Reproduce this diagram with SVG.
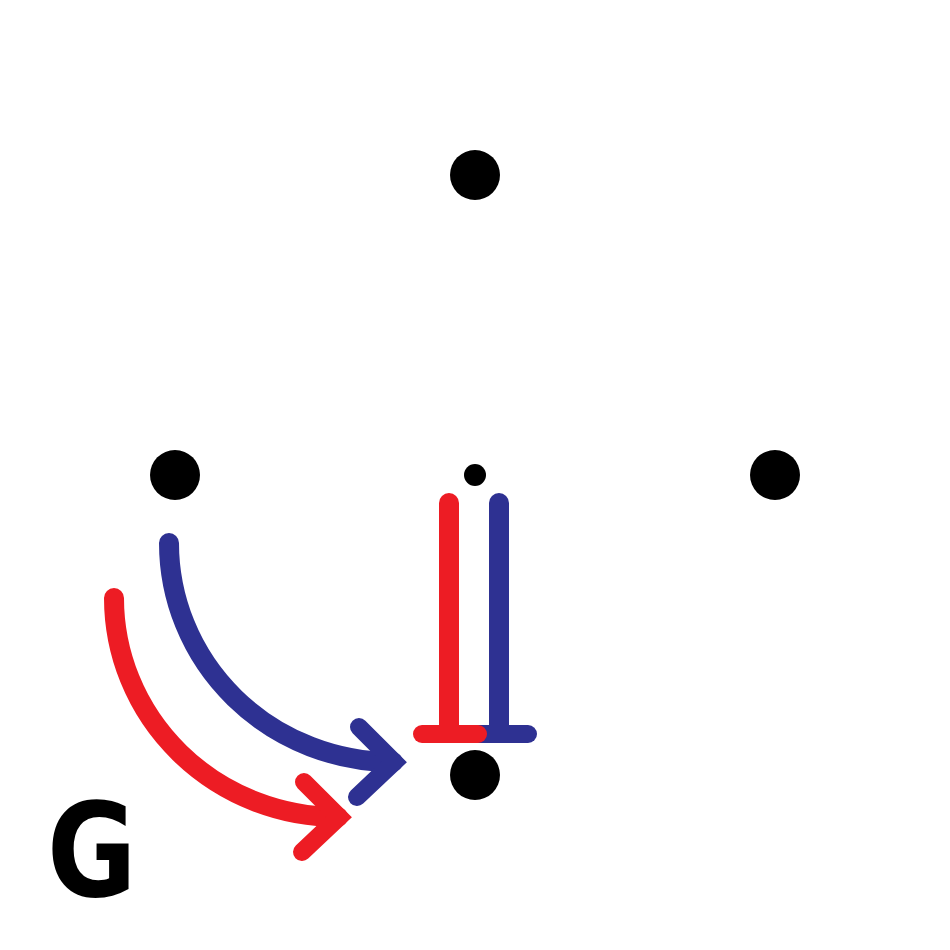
<svg xmlns="http://www.w3.org/2000/svg" width="950" height="950" viewBox="0 0 950 950">
<style>
.dot{fill:#000}
.red{stroke:#ED1C24}
.blue{stroke:#2E3192}
.ln{fill:none;stroke-width:20;stroke-linecap:round}
.bar{fill:none;stroke-width:18;stroke-linecap:round}
.chev{fill:none;stroke-width:18;stroke-linecap:round;stroke-linejoin:miter;stroke-miterlimit:10}
.lbl{font-family:"DejaVu Sans","Liberation Sans",sans-serif;font-weight:bold;font-size:130px;fill:#000}
</style>
<rect width="950" height="950" fill="#fff"/>
<g id="node-top"><circle class="dot" cx="475" cy="175" r="25"/></g>
<g id="node-left"><circle class="dot" cx="175" cy="475" r="25"/></g>
<g id="node-right"><circle class="dot" cx="775" cy="475" r="25"/></g>
<g id="node-bottom"><circle class="dot" cx="475" cy="775" r="25"/></g>
<g id="node-center"><circle class="dot" cx="475" cy="475" r="11"/></g>
<g id="connectors">
<path class="ln blue" d="M169,543 A224,219 0 0 0 393,762"/>
<polyline class="chev blue" points="359,727 394,762 357,797"/>
<path class="ln red" d="M114,598 A224,219 0 0 0 338,817"/>
<polyline class="chev red" points="304,782 339,817 302,852"/>
<line class="ln blue" x1="499" y1="503" x2="499" y2="733"/>
<line class="bar blue" x1="472" y1="734" x2="528" y2="734"/>
<line class="ln red" x1="449" y1="503" x2="449" y2="733"/>
<line class="bar red" x1="422" y1="734" x2="478" y2="734"/>
</g>
<g id="label-G"><text class="lbl" transform="translate(47,896) scale(0.84,1)">G</text></g>
</svg>
